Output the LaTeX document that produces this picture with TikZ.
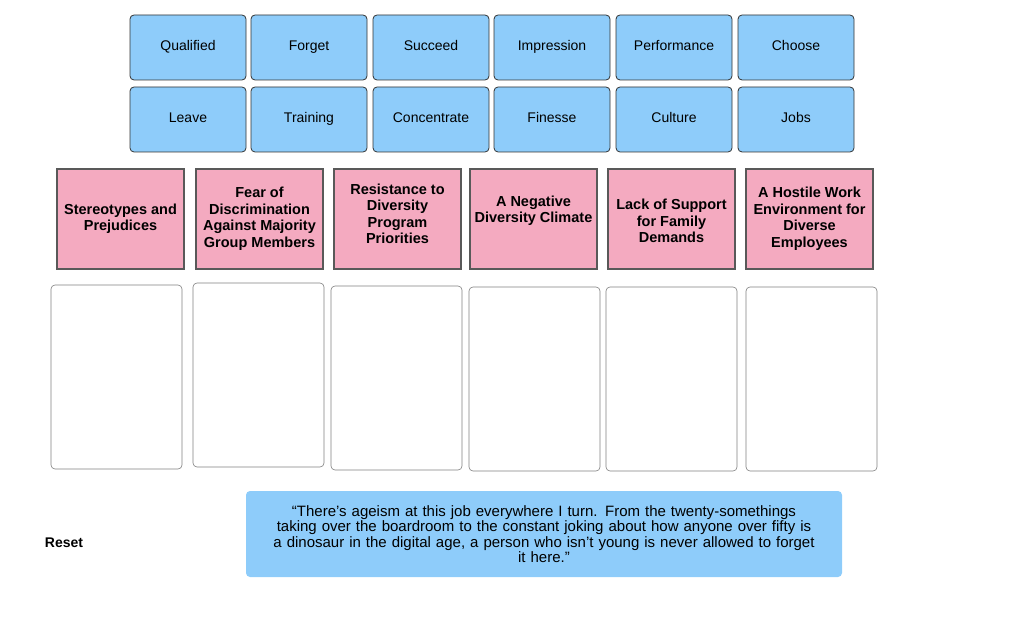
\documentclass[tikz,border=0pt]{standalone}
\usepackage{fontspec}
\setmainfont{Liberation Sans}
\begin{document}
\begin{tikzpicture}[x=1pt,y=-1pt,
 word/.style={draw=black!80,fill={rgb,255:red,142;green,204;blue,250},rounded corners=4pt,line width=0.8pt},
 wl/.style={font=\fontsize{14}{16}\selectfont,text height=10pt,text depth=3pt},
 cat/.style={draw=black!65,fill={rgb,255:red,244;green,170;blue,192},line width=2pt},
 catl/.style={font=\bfseries\fontsize{14.5}{16.5}\selectfont,align=center},
 slot/.style={draw=black!50,fill=white,rounded corners=4pt,line width=0.6pt},
 quote/.style={fill={rgb,255:red,142;green,204;blue,250},rounded corners=4pt,font=\fontsize{15}{15.5}\selectfont,align=center}]
\useasboundingbox (0,0) rectangle (1024,620);
\foreach \t/\x [count=\i] in {Qualified/130,Forget/251,Succeed/373,Impression/494,Performance/616,Choose/738}{
 \draw[word] (\x,15) rectangle ++(116,65);
 \node[wl] (w\i) at (\x+58,47.5) {\t};}
\foreach \t/\x [count=\i] in {Leave/130,Training/251,Concentrate/373,Finesse/494,Culture/616,Jobs/738}{
 \draw[word] (\x,87) rectangle ++(116,65);
 \node[wl] (v\i) at (\x+58,119.5) {\t};}
\foreach \x/\y/\t [count=\i] in {57/219/{Stereotypes and\\Prejudices},196/219/{Fear of\\Discrimination\\Against Majority\\Group Members},334/214/{Resistance to\\Diversity\\Program\\Priorities},470/211/{A Negative\\Diversity Climate},608/221/{Lack of Support\\for Family\\Demands},746/219/{A Hostile Work\\Environment for\\Diverse\\Employees}}{
 \draw[cat] (\x,169) rectangle ++(127,100);
 \node[catl] (c\i) at (\x+63.5,\y) {\t};}
\foreach \x/\y [count=\i] in {51/285,193/283,331/286,469/287,606/287,746/287}{
 \draw[slot] (\x,\y) rectangle ++(131,184); \coordinate (s\i) at (\x,\y);}
\node[quote,minimum width=596pt,minimum height=86pt,text width=580pt] (q) at (544,534) {“There’s ageism at this job everywhere I turn. From the twenty-somethings\\taking over the boardroom to the constant joking about how anyone over fifty is\\a dinosaur in the digital age, a person who isn’t young is never allowed to forget\\it here.”};
\node[font=\bfseries\fontsize{14}{16}\selectfont] (r) at (64,543) {Reset};
\end{tikzpicture}
\end{document}
